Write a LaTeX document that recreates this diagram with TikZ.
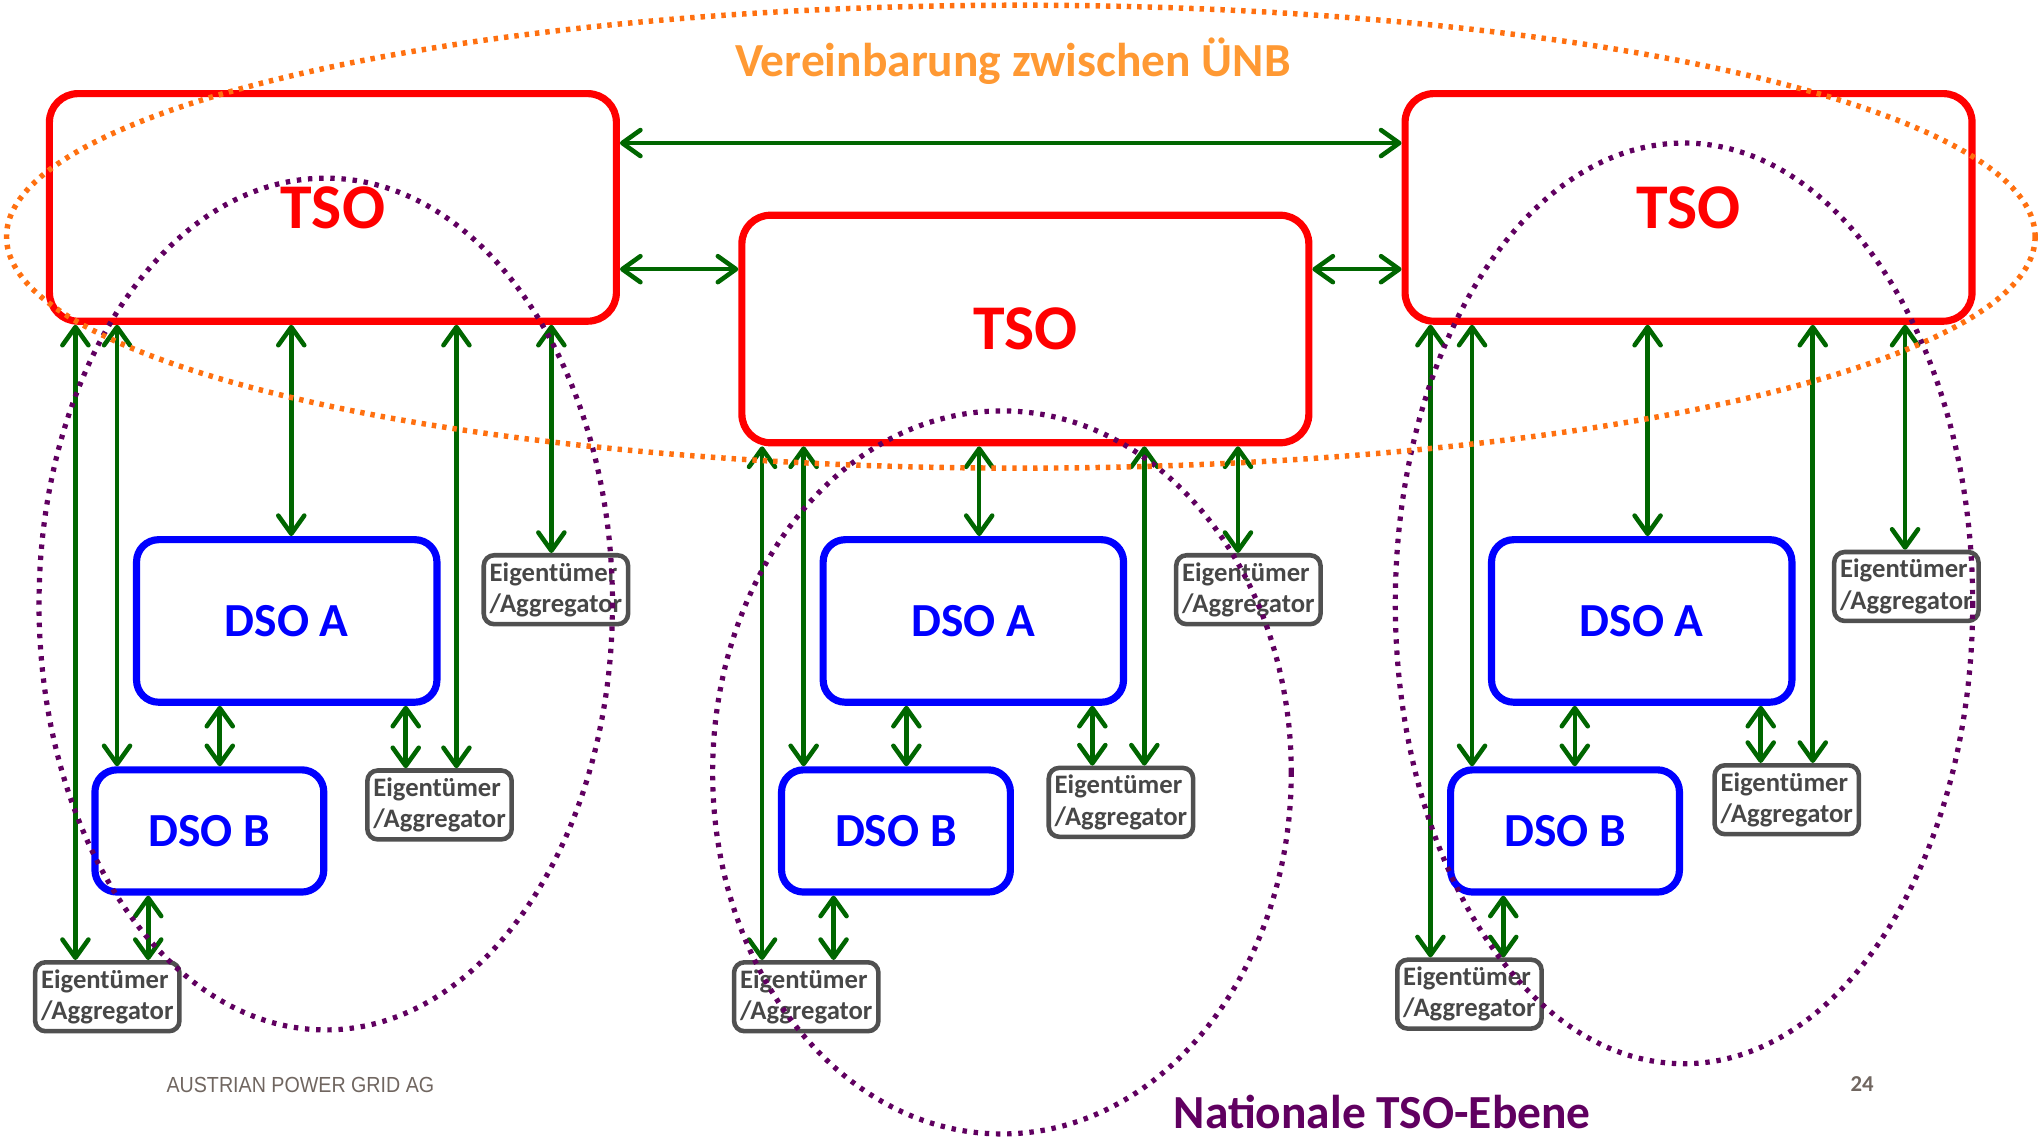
\documentclass[tikz,border=0pt]{standalone}
\usepackage{fontspec}
\setmainfont{Carlito}
\newfontfamily\footerfont{Liberation Sans}
\usetikzlibrary{arrows.meta}

\definecolor{tsored}{HTML}{FF0000}
\definecolor{dsoblue}{HTML}{0000FF}
\definecolor{linkgreen}{HTML}{006600}
\definecolor{ownergray}{HTML}{505050}
\definecolor{ownertext}{HTML}{474747}
\definecolor{agreeorange}{HTML}{FF9933}
\definecolor{ringorange}{HTML}{FF7010}
\definecolor{natpurple}{HTML}{600060}
\definecolor{footgray}{HTML}{706660}

\begin{document}
\begin{tikzpicture}[x=1pt,y=-1pt,
  tsobox/.style={draw=tsored, line width=5.5pt, rounded corners=22pt,
    minimum width=436pt, minimum height=175pt, text=tsored,
    font=\fontsize{49}{49}\selectfont\bfseries},
  dsobox/.style={draw=dsoblue, line width=5.5pt, rounded corners=17pt,
    text=dsoblue, font=\fontsize{36.5}{36.5}\selectfont\bfseries},
  dsoA/.style={dsobox, minimum width=231pt, minimum height=125pt},
  dsoB/.style={dsobox, minimum width=176pt, minimum height=94pt},
  ownerbox/.style={draw=ownergray, line width=3.5pt, rounded corners=8pt,
    minimum width=111pt, minimum height=53pt, inner sep=1pt, align=left,
    text=ownertext, font=\fontsize{20.5}{24}\selectfont\bfseries},
  link/.style={draw=linkgreen, line width=3.5pt, <->,
    >={Straight Barb[round,length=14pt,width=20pt]}},
  orangering/.style={draw=ringorange, line width=4.2pt, dash pattern=on 3.4pt off 4.6pt},
  purplering/.style={draw=natpurple, line width=4pt, dash pattern=on 3.4pt off 5.2pt},
]
\path[use as bounding box] (0,0) rectangle (1568,875);

% transmission system operators
\node[tsobox] (tsoL) at (256,159.5) {TSO};
\node[tsobox] (tsoM) at (788.5,253) {TSO};
\node[tsobox] (tsoR) at (1298.5,159.5) {TSO};

% distribution system operators
\node[dsoA] (dsoAL) at (220.5,477.5) {DSO A};
\node[dsoB] (dsoBL) at (161,639) {DSO B};
\node[dsoA] (dsoAM) at (748.5,477.5) {DSO A};
\node[dsoB] (dsoBM) at (689,639) {DSO B};
\node[dsoA] (dsoAR) at (1262.5,477.5) {DSO A};
\node[dsoB] (dsoBR) at (1203.5,639) {DSO B};

% owners / aggregators
\node[ownerbox] (eL1) at (427.5,453.5) {Eigentümer\\/Aggregator};
\node[ownerbox] (eL2) at (338,619) {Eigentümer\\/Aggregator};
\node[ownerbox] (eL3) at (82.5,766.5) {Eigentümer\\/Aggregator};
\node[ownerbox] (eM1) at (960,453.5) {Eigentümer\\/Aggregator};
\node[ownerbox] (eM2) at (862,617) {Eigentümer\\/Aggregator};
\node[ownerbox] (eM3) at (620,766.5) {Eigentümer\\/Aggregator};
\node[ownerbox] (eR1) at (1466,451) {Eigentümer\\/Aggregator};
\node[ownerbox] (eR2) at (1374,615) {Eigentümer\\/Aggregator};
\node[ownerbox] (eR3) at (1130,764.5) {Eigentümer\\/Aggregator};

% links between the TSOs
\draw[link] (tsoL.east |- 0,110) -- (tsoR.west |- 0,110);
\draw[link] (tsoL.east |- 0,207) -- (tsoM.west |- 0,207);
\draw[link] (tsoM.east |- 0,207) -- (tsoR.west |- 0,207);

% left group
\draw[link] (tsoL.south -| 58,0) -- (eL3.north -| 58,0);
\draw[link] (tsoL.south -| 90,0) -- (dsoBL.north -| 90,0);
\draw[link] (tsoL.south -| 224,0) -- (dsoAL.north -| 224,0);
\draw[link] (tsoL.south -| 351,0) -- (eL2.north -| 351,0);
\draw[link] (tsoL.south -| 424,0) -- (eL1.north -| 424,0);
\draw[link] (dsoAL.south -| 169,0) -- (dsoBL.north -| 169,0);
\draw[link] (dsoAL.south -| 312,0) -- (eL2.north -| 312,0);
\draw[link] (dsoBL.south -| 114,0) -- (eL3.north -| 114,0);

% middle group
\draw[link] (tsoM.south -| 586,0) -- (eM3.north -| 586,0);
\draw[link] (tsoM.south -| 618,0) -- (dsoBM.north -| 618,0);
\draw[link] (tsoM.south -| 753,0) -- (dsoAM.north -| 753,0);
\draw[link] (tsoM.south -| 880,0) -- (eM2.north -| 880,0);
\draw[link] (tsoM.south -| 952,0) -- (eM1.north -| 952,0);
\draw[link] (dsoAM.south -| 697,0) -- (dsoBM.north -| 697,0);
\draw[link] (dsoAM.south -| 840,0) -- (eM2.north -| 840,0);
\draw[link] (dsoBM.south -| 641,0) -- (eM3.north -| 641,0);

% right group
\draw[link] (tsoR.south -| 1100,0) -- (eR3.north -| 1100,0);
\draw[link] (tsoR.south -| 1132,0) -- (dsoBR.north -| 1132,0);
\draw[link] (tsoR.south -| 1267,0) -- (dsoAR.north -| 1267,0);
\draw[link] (tsoR.south -| 1394,0) -- (eR2.north -| 1394,0);
\draw[link] (tsoR.south -| 1465,0) -- (eR1.north -| 1465,0);
\draw[link] (dsoAR.south -| 1211,0) -- (dsoBR.north -| 1211,0);
\draw[link] (dsoAR.south -| 1354,0) -- (eR2.north -| 1354,0);
\draw[link] (dsoBR.south -| 1156,0) -- (eR3.north -| 1156,0);

% national TSO levels and the agreement between TSOs
\draw[purplering] (250.5,464.5) ellipse [x radius=220.5, y radius=327.5];
\draw[purplering] (770.5,594) ellipse [x radius=222.5, y radius=278];
\draw[purplering] (1295,464) ellipse [x radius=222, y radius=354];
\draw[orangering] (785,182) ellipse [x radius=780, y radius=178];

% labels
\node[anchor=base, text=agreeorange, font=\fontsize{36.5}{36.5}\selectfont\bfseries]
  (agree) at (779,59) {Vereinbarung zwischen ÜNB};
\node[anchor=base, inner sep=0pt, text=natpurple, font=\fontsize{36.5}{36.5}\selectfont\bfseries]
  (national) at (1063,868) {Nationale TSO-Ebene};
\node[text=footgray, font=\footerfont\fontsize{16.8}{16.8}\selectfont]
  (company) at (231,834) {\scalebox{0.9}[1]{AUSTRIAN POWER GRID AG}};
\node[text=footgray, font=\fontsize{17.5}{17.5}\selectfont\bfseries]
  (page) at (1432,834) {24};
\end{tikzpicture}
\end{document}
